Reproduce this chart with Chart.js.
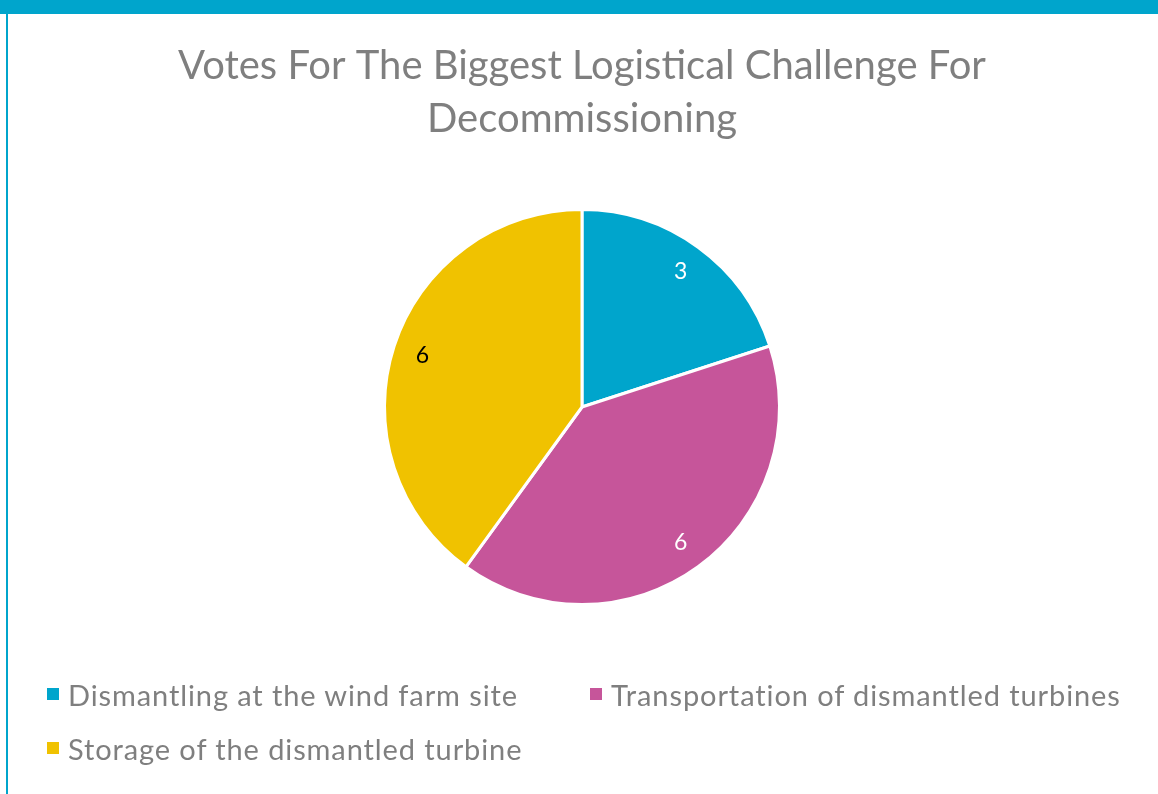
<!DOCTYPE html>
<html lang="en">
<head>
    <meta charset="UTF-8">
    <title>Votes For The Biggest Logistical Challenge For Decommissioning</title>
    <script src="https://cdn.jsdelivr.net/npm/chart.js"></script>
    <style>
        body { margin: 0; background: #fff; width: 1158px; height: 794px; overflow: hidden; position: relative; font-family: Lato, 'Open Sans', sans-serif; }
        .topband { position: absolute; left: 0; top: 0; width: 1158px; height: 14px; background: #00a5cc; }
        .leftline { position: absolute; left: 6px; top: 14px; width: 2px; height: 780px; background: #00a5cc; }
        .chartbox { position: absolute; left: 6px; top: 14px; width: 1152px; height: 780px; }
        #legend { position: absolute; left: 47px; top: 676px; display: grid; grid-template-columns: 543px auto; row-gap: 18px; }
        .item { display: flex; align-items: center; color: #7f7f7f; font-size: 29px; letter-spacing: 0.9px; height: 36px; white-space: nowrap; }
        .swatch { width: 12px; height: 12px; margin-right: 9px; }
    </style>
</head>
<body>
    <div class="topband"></div>
    <div class="leftline"></div>
    <div class="chartbox"><canvas id="pieChart"></canvas></div>
    <div id="legend"></div>
    <script>
        const categories = ['Dismantling at the wind farm site', 'Transportation of dismantled turbines', 'Storage of the dismantled turbine'];
        const votes = [3, 6, 6];
        const sliceColors = ['#00a5cc', '#c6559a', '#f0c200'];
        const labelColors = ['#ffffff', '#ffffff', '#000000'];

        // draw the value inside each slice
        const sliceLabels = {
            id: 'sliceLabels',
            afterDatasetsDraw(chart) {
                const ctx = chart.ctx;
                const meta = chart.getDatasetMeta(0);
                ctx.save();
                ctx.font = '23px Lato, sans-serif';
                ctx.textAlign = 'center';
                ctx.textBaseline = 'middle';
                meta.data.forEach((arc, i) => {
                    const mid = (arc.startAngle + arc.endAngle) / 2;
                    const r = arc.outerRadius * 0.85;
                    ctx.fillStyle = labelColors[i];
                    ctx.fillText(String(votes[i]), arc.x + Math.cos(mid) * r, arc.y + Math.sin(mid) * r);
                });
                ctx.restore();
            }
        };

        const chart = new Chart(document.getElementById('pieChart').getContext('2d'), {
            type: 'pie',
            data: {
                labels: categories,
                datasets: [{
                    data: votes,
                    backgroundColor: sliceColors,
                    borderColor: '#ffffff',
                    borderWidth: 3
                }]
            },
            options: {
                responsive: true,
                maintainAspectRatio: false,
                animation: false,
                layout: { padding: { bottom: 188 } },
                plugins: {
                    legend: { display: false },
                    tooltip: { enabled: false },
                    title: {
                        display: true,
                        text: ['Votes For The Biggest Logistical Challenge For', 'Decommissioning'],
                        color: '#7f7f7f',
                        font: { family: 'Lato', size: 40, weight: 'normal', lineHeight: 1.325 },
                        padding: { top: 26, bottom: 62 }
                    }
                }
            },
            plugins: [sliceLabels]
        });

        const legend = document.getElementById('legend');
        chart.data.labels.forEach((name, i) => {
            const item = document.createElement('div');
            item.className = 'item';
            const sw = document.createElement('span');
            sw.className = 'swatch';
            sw.style.background = chart.data.datasets[0].backgroundColor[i];
            const txt = document.createElement('span');
            txt.textContent = name;
            item.appendChild(sw);
            item.appendChild(txt);
            legend.appendChild(item);
        });
    </script>
</body>
</html>
